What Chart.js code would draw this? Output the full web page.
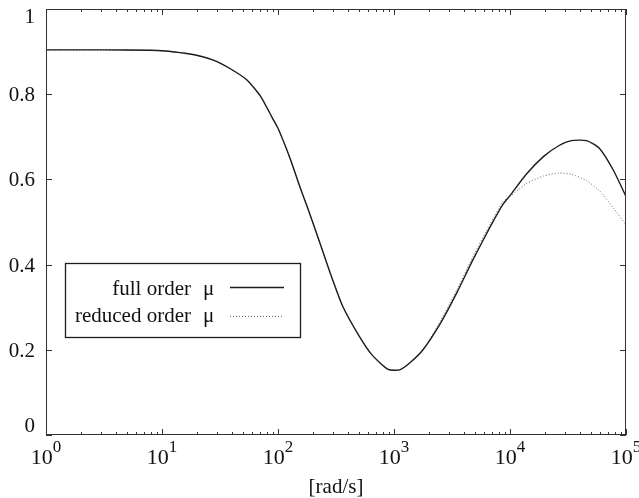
<!DOCTYPE html>
<html>
<head>
<meta charset="utf-8">
<title>mu</title>
<script src="https://cdn.jsdelivr.net/npm/chart.js@4/dist/chart.umd.min.js"></script>
<style>
  html, body { margin: 0; padding: 0; background: #fff; }
  #wrap { width: 639px; height: 498px; position: relative; }
</style>
</head>
<body>
<div id="wrap"><canvas id="grafica"></canvas></div>
<script>
// frecuencias [rad/s]
const freq = [1, 3.16, 7.94, 10, 15.8, 22.4, 29.5, 39.8, 53.7, 70.8, 89.1, 100,
  126, 158, 178, 229, 288, 363, 501, 646, 891, 1122, 1380, 1778, 2512, 3467,
  4786, 6761, 8710, 10000, 13804, 19498, 26303, 33884, 45709, 58884, 77625, 100000];

const fullMu = [0.904, 0.904, 0.903, 0.902, 0.896, 0.888, 0.877, 0.858, 0.834, 0.795, 0.745, 0.720,
  0.652, 0.575, 0.537, 0.452, 0.373, 0.301, 0.232, 0.188, 0.154, 0.153, 0.170, 0.200, 0.262, 0.333,
  0.411, 0.489, 0.542, 0.562, 0.612, 0.654, 0.679, 0.691, 0.691, 0.673, 0.622, 0.560];

const reducedMu = [0.904, 0.904, 0.903, 0.902, 0.896, 0.888, 0.877, 0.858, 0.834, 0.795, 0.745, 0.720,
  0.652, 0.575, 0.537, 0.452, 0.373, 0.301, 0.232, 0.188, 0.154, 0.153, 0.170, 0.200, 0.268, 0.340,
  0.419, 0.496, 0.548, 0.560, 0.590, 0.608, 0.615, 0.612, 0.597, 0.574, 0.533, 0.493];

const yTicks = [0, 0.2, 0.4, 0.6, 0.8, 1];
const yTickLabels = ['0', '0.2', '0.4', '0.6', '0.8', '1'];
const xExponents = [0, 1, 2, 3, 4, 5];
const xTitle = '[rad/s]';
const seriesNames = ['full order', 'reduced order'];

const SERIF = '"Liberation Serif", "DejaVu Serif", serif';
const INK = '#1c1c1c';

function puntos(ys) {
  return freq.map((f, i) => ({ x: f, y: ys[i] }));
}

// marco, marcas, etiquetas y leyenda al estilo gnuplot
const marco = {
  id: 'marco',
  afterDraw(chart) {
    const ctx = chart.ctx;
    const a = chart.chartArea;
    const sx = chart.scales.x;
    const sy = chart.scales.y;
    ctx.save();
    ctx.strokeStyle = '#333';
    ctx.lineWidth = 1;
    ctx.strokeRect(a.left + 0.5, a.top + 0.5, a.right - a.left - 1, a.bottom - a.top - 1);

    // marcas en y (izquierda y derecha, hacia dentro)
    ctx.beginPath();
    yTicks.forEach(v => {
      const py = Math.round(sy.getPixelForValue(v)) + 0.5;
      ctx.moveTo(a.left, py); ctx.lineTo(a.left + 6, py);
      ctx.moveTo(a.right, py); ctx.lineTo(a.right - 6, py);
    });
    // marcas en x, decadas y menores
    for (let d = 0; d <= 5; d++) {
      for (let k = 1; k <= 9; k++) {
        const v = k * Math.pow(10, d);
        if (v > sx.max) break;
        const px = Math.round(sx.getPixelForValue(v)) + 0.5;
        const len = k === 1 ? 6 : 3;
        ctx.moveTo(px, a.bottom); ctx.lineTo(px, a.bottom - len);
        ctx.moveTo(px, a.top); ctx.lineTo(px, a.top + len);
      }
    }
    ctx.stroke();

    // etiquetas eje y
    ctx.fillStyle = '#111';
    ctx.font = '21px ' + SERIF;
    ctx.textAlign = 'right';
    ctx.textBaseline = 'alphabetic';
    yTicks.forEach((v, i) => {
      let py = sy.getPixelForValue(v) + 7;
      if (v === sy.min) py -= 10;
      if (v === sy.max) py += 7;
      ctx.fillText(yTickLabels[i], 35, py);
    });

    // etiquetas eje x: 10 con exponente
    ctx.textAlign = 'left';
    xExponents.forEach(e => {
      const px = sx.getPixelForValue(Math.pow(10, e));
      ctx.font = '22px ' + SERIF;
      const wb = ctx.measureText('10').width;
      ctx.font = '17px ' + SERIF;
      const we = ctx.measureText(String(e)).width;
      const x0 = px - (wb + we) / 2;
      ctx.font = '22px ' + SERIF;
      ctx.fillText('10', x0, a.bottom + 29);
      ctx.font = '17px ' + SERIF;
      ctx.fillText(String(e), x0 + wb, a.bottom + 17);
    });

    // titulo eje x
    ctx.font = '21px ' + SERIF;
    ctx.textAlign = 'center';
    ctx.fillText(xTitle, (a.left + a.right) / 2, 493);

    // leyenda
    const box = { x: 65, y: 263, w: 235, h: 74 };
    ctx.fillStyle = '#fff';
    ctx.fillRect(box.x, box.y, box.w, box.h);
    ctx.strokeStyle = INK;
    ctx.lineWidth = 1.3;
    ctx.strokeRect(box.x + 0.5, box.y + 0.5, box.w, box.h);
    const filas = [295, 322];
    const lineasY = [287.5, 316.5];
    chart.data.datasets.forEach((ds, i) => {
      ctx.fillStyle = '#111';
      ctx.font = '21px ' + SERIF;
      ctx.textAlign = 'right';
      ctx.fillText(ds.label, 191, filas[i]);
      ctx.textAlign = 'left';
      ctx.fillText('\u03bc', 203, filas[i]);
      ctx.beginPath();
      ctx.strokeStyle = ds.borderColor;
      ctx.lineWidth = ds.borderWidth;
      ctx.setLineDash(ds.borderDash || []);
      ctx.moveTo(230, lineasY[i]);
      ctx.lineTo(284, lineasY[i]);
      ctx.stroke();
      ctx.setLineDash([]);
    });
    ctx.restore();
  }
};

const ctx = document.getElementById('grafica').getContext('2d');
new Chart(ctx, {
  type: 'line',
  data: {
    datasets: [
      {
        label: seriesNames[0],
        data: puntos(fullMu),
        borderColor: INK,
        borderWidth: 1.4,
        pointRadius: 0,
        tension: 0.2,
        fill: false
      },
      {
        label: seriesNames[1],
        data: puntos(reducedMu),
        borderColor: '#666',
        borderWidth: 1,
        borderDash: [1, 2],
        pointRadius: 0,
        tension: 0.2,
        fill: false
      }
    ]
  },
  options: {
    responsive: true,
    maintainAspectRatio: false,
    animation: false,
    layout: { padding: { top: 9, right: 13, left: 0, bottom: 0 } },
    plugins: {
      legend: { display: false },
      tooltip: { enabled: false }
    },
    scales: {
      x: {
        type: 'logarithmic',
        min: 1,
        max: 100000,
        grid: { display: false },
        border: { display: false },
        ticks: { display: false },
        afterFit: s => { s.height = 63; }
      },
      y: {
        type: 'linear',
        min: 0,
        max: 1,
        grid: { display: false },
        border: { display: false },
        ticks: { display: false },
        afterFit: s => { s.width = 46; }
      }
    }
  },
  plugins: [marco]
});
</script>
</body>
</html>
